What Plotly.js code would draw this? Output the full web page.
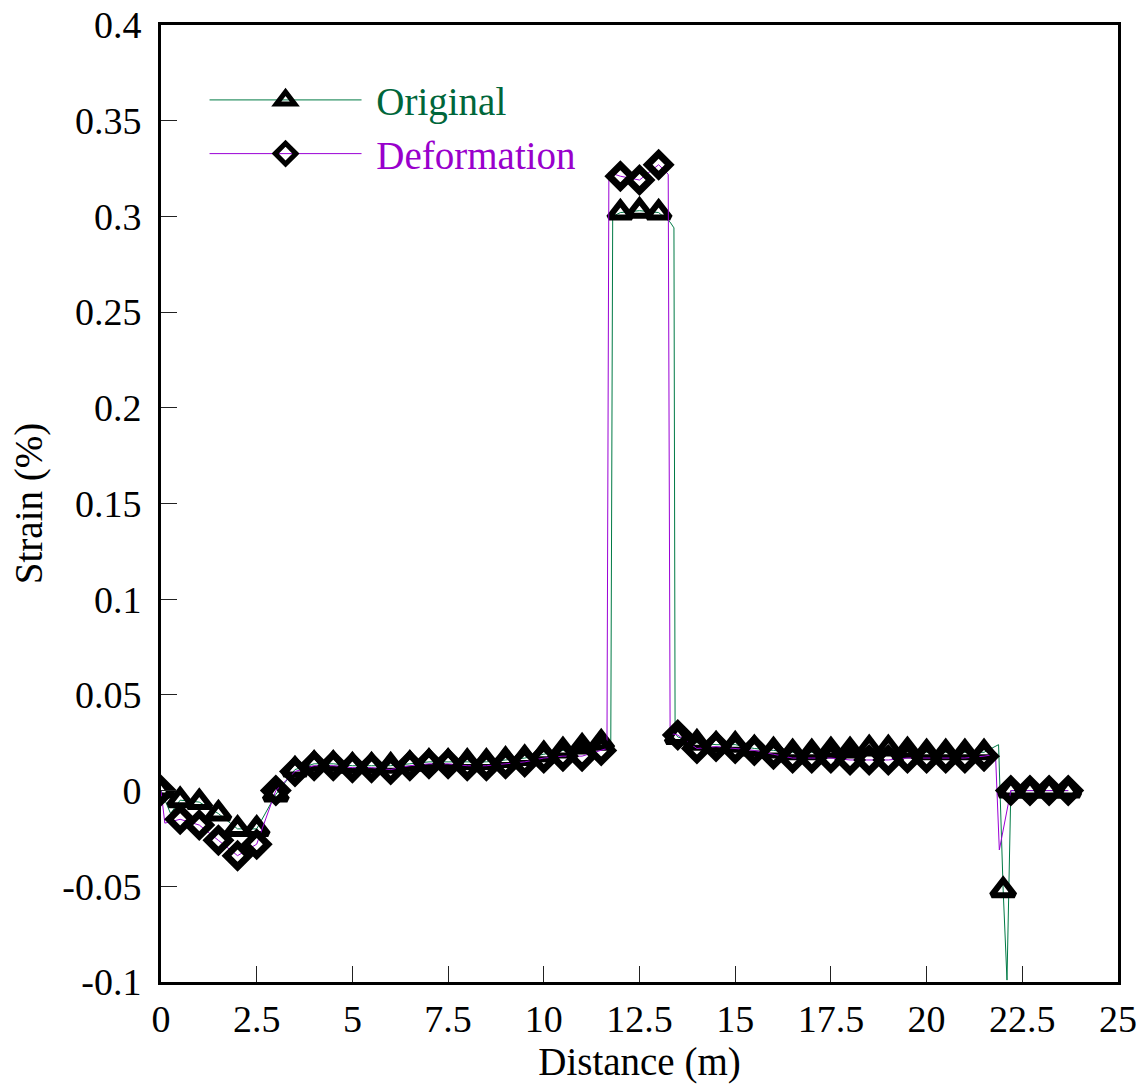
<!DOCTYPE html>
<html>
<head>
<meta charset="utf-8">
<script src="https://cdn.plot.ly/plotly-3.0.1.min.js"></script>
<style>html,body{margin:0;padding:0;background:#fff;}#chart{width:1148px;height:1091px;}</style>
</head>
<body>
<div id="chart"></div>
<script>
// ---- Marker samples (every ~0.5 m) ----
const origMarkX = [0,0.5,1,1.5,2,2.5,3,3.5,4,4.5,5,5.5,6,6.5,7,7.5,8,8.5,9,9.5,10,10.5,11,11.5,12,12.5,13,13.5,14,14.5,15,15.5,16,16.5,17,17.5,18,18.5,19,19.5,20,20.5,21,21.5,22.0,22.2,22.7,23.2,23.7];
const origMarkY = [0,-0.005,-0.006,-0.012,-0.020,-0.020,-0.002,0.011,0.014,0.014,0.013,0.013,0.013,0.014,0.015,0.015,0.015,0.015,0.016,0.017,0.019,0.021,0.023,0.025,0.302,0.303,0.302,0.028,0.025,0.024,0.024,0.022,0.021,0.020,0.020,0.021,0.021,0.022,0.022,0.021,0.020,0.020,0.020,0.020,-0.052,0,0,0,0];

const defMarkX = [0,0.5,1,1.5,2,2.5,3,3.5,4,4.5,5,5.5,6,6.5,7,7.5,8,8.5,9,9.5,10,10.5,11,11.5,12,12.5,13,13.5,14,14.5,15,15.5,16,16.5,17,17.5,18,18.5,19,19.5,20,20.5,21,21.5,22.2,22.7,23.2,23.7];
const defMarkY = [0,-0.015,-0.018,-0.026,-0.034,-0.028,0.000,0.010,0.013,0.013,0.012,0.012,0.011,0.013,0.014,0.014,0.013,0.013,0.014,0.015,0.017,0.018,0.018,0.021,0.321,0.319,0.327,0.029,0.022,0.023,0.022,0.021,0.019,0.017,0.017,0.017,0.016,0.016,0.016,0.017,0.017,0.017,0.017,0.018,0,0,0,0];

// ---- Extra line samples between markers (finer measurement points) ----
const origExtraX = [0.25,11.75,11.8,13.3,13.4,13.43,21.88,22.1];
const origExtraY = [-0.012,0.026,0.300,0.297,0.294,0.030,0.024,-0.099];
const defExtraX = [0.1,11.65,11.7,13.25,13.3,21.8,21.9];
const defExtraY = [-0.017,0.022,0.323,0.322,0.030,0.019,-0.031];

// ---- Axis ticks ----
const yTickVals = [-0.1,-0.05,0,0.05,0.1,0.15,0.2,0.25,0.3,0.35,0.4];
const yTickText = ['-0.1','-0.05','0','0.05','0.1','0.15','0.2','0.25','0.3','0.35','0.4'];

const seriesNames = ['Original','Deformation'];
const lineColors = ['#007a45','#9a00d6'];
const textColors = ['#00663a','#9900cc'];

function merge(xa, ya, xb, yb) {
  const pts = [];
  for (let i = 0; i < xa.length; i++) pts.push([xa[i], ya[i]]);
  for (let i = 0; i < xb.length; i++) pts.push([xb[i], yb[i]]);
  pts.sort((a, b) => a[0] - b[0]);
  return [pts.map(p => p[0]), pts.map(p => p[1])];
}
const origLine = merge(origMarkX, origMarkY, origExtraX, origExtraY);
const defLine = merge(defMarkX, defMarkY, defExtraX, defExtraY);

const FONT = '"Liberation Serif", "Times New Roman", serif';
const triMarker = {symbol: 'triangle-up-open', size: 20, color: '#000', line: {width: 6, color: '#000'}};
const diaMarker = {symbol: 'diamond-open', size: 17, color: '#000', line: {width: 7, color: '#000'}};

const traces = [
  {x: origLine[0], y: origLine[1], mode: 'lines', line: {color: lineColors[0], width: 1}, showlegend: false, hoverinfo: 'skip'},
  {x: origMarkX, y: origMarkY, mode: 'markers', marker: triMarker, showlegend: false},
  {x: defLine[0], y: defLine[1], mode: 'lines', line: {color: lineColors[1], width: 1}, showlegend: false, hoverinfo: 'skip'},
  {x: defMarkX, y: defMarkY, mode: 'markers', marker: diaMarker, showlegend: false},
  // legend entries
  {x: [null], y: [null], mode: 'lines+markers', name: '&nbsp;<span style="color:' + textColors[0] + '">' + seriesNames[0] + '</span>',
   line: {color: lineColors[0], width: 1}, marker: triMarker},
  {x: [null], y: [null], mode: 'lines+markers', name: '&nbsp;<span style="color:' + textColors[1] + '">' + seriesNames[1] + '</span>',
   line: {color: lineColors[1], width: 1}, marker: diaMarker}
];

const axisCommon = {
  showgrid: false, zeroline: false, showline: true, linewidth: 3, linecolor: '#000', mirror: true,
  ticks: 'inside', ticklen: 16, tickwidth: 1, tickcolor: '#222',
  tickfont: {family: FONT, size: 38, color: '#000'}
};

const layout = {
  width: 1148, height: 1091,
  margin: {l: 161, r: 30, t: 25, b: 109},
  paper_bgcolor: '#fff', plot_bgcolor: '#fff',
  font: {family: FONT, color: '#000'},
  xaxis: Object.assign({}, axisCommon, {
    range: [0, 25], tick0: 0, dtick: 2.5, ticklabelstandoff: 1,
    title: {text: 'Distance (m)', font: {family: FONT, size: 39, color: '#000'}, standoff: 6}
  }),
  yaxis: Object.assign({}, axisCommon, {
    range: [-0.1, 0.4], tickmode: 'array', tickvals: yTickVals, ticktext: yTickText, ticklabelstandoff: 9,
    title: {text: 'Strain (%)', font: {family: FONT, size: 39, color: '#000'}, standoff: 8}
  }),
  legend: {
    x: 0.0455, y: 0.955, xanchor: 'left', yanchor: 'top',
    bgcolor: 'rgba(0,0,0,0)', borderwidth: 0, itemwidth: 152,
    font: {family: FONT, size: 39, color: '#000'}
  },
  showlegend: true
};

Plotly.newPlot('chart', traces, layout, {displayModeBar: false, staticPlot: true});
</script>
</body>
</html>
